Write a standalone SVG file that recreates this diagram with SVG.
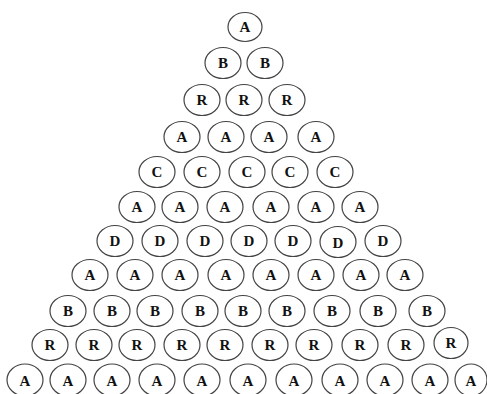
<svg xmlns="http://www.w3.org/2000/svg" width="487" height="394" viewBox="0 0 487 394">
<style>
.n ellipse{fill:#fff;stroke:#444;stroke-width:1.2}
.n text{font-family:"Liberation Serif","Times New Roman",serif;font-size:15px;font-weight:bold;text-anchor:middle;fill:#111}
</style>
<rect width="487" height="394" fill="#fff"/>
<g id="connectors"/>
<g id="r1" class="n">
<g id="n1_1"><ellipse cx="245" cy="27" rx="17" ry="14.5"/><text x="245" y="32">A</text></g>
</g>
<g id="r2" class="n">
<g id="n2_1"><ellipse cx="223" cy="63" rx="18" ry="15.5"/><text x="223" y="68">B</text></g>
<g id="n2_2"><ellipse cx="265" cy="63" rx="18" ry="15.5"/><text x="265" y="68">B</text></g>
</g>
<g id="r3" class="n">
<g id="n3_1"><ellipse cx="202" cy="100" rx="18" ry="15.5"/><text x="202" y="105">R</text></g>
<g id="n3_2"><ellipse cx="244" cy="100" rx="18" ry="15.5"/><text x="244" y="105">R</text></g>
<g id="n3_3"><ellipse cx="287" cy="100" rx="18" ry="15.5"/><text x="287" y="105">R</text></g>
</g>
<g id="r4" class="n">
<g id="n4_1"><ellipse cx="182" cy="137" rx="18" ry="15.5"/><text x="182" y="142">A</text></g>
<g id="n4_2"><ellipse cx="226" cy="137" rx="18" ry="15.5"/><text x="226" y="142">A</text></g>
<g id="n4_3"><ellipse cx="269" cy="137" rx="18" ry="15.5"/><text x="269" y="142">A</text></g>
<g id="n4_4"><ellipse cx="316" cy="137" rx="18" ry="15.5"/><text x="316" y="142">A</text></g>
</g>
<g id="r5" class="n">
<g id="n5_1"><ellipse cx="157" cy="172" rx="18" ry="15.5"/><text x="157" y="177">C</text></g>
<g id="n5_2"><ellipse cx="202" cy="172" rx="18" ry="15.5"/><text x="202" y="177">C</text></g>
<g id="n5_3"><ellipse cx="247" cy="172" rx="18" ry="15.5"/><text x="247" y="177">C</text></g>
<g id="n5_4"><ellipse cx="290" cy="172" rx="18" ry="15.5"/><text x="290" y="177">C</text></g>
<g id="n5_5"><ellipse cx="335" cy="172" rx="18" ry="15.5"/><text x="335" y="177">C</text></g>
</g>
<g id="r6" class="n">
<g id="n6_1"><ellipse cx="137" cy="207" rx="18" ry="15.5"/><text x="137" y="212">A</text></g>
<g id="n6_2"><ellipse cx="180" cy="207" rx="18" ry="15.5"/><text x="180" y="212">A</text></g>
<g id="n6_3"><ellipse cx="225" cy="207" rx="18" ry="15.5"/><text x="225" y="212">A</text></g>
<g id="n6_4"><ellipse cx="271" cy="207" rx="18" ry="15.5"/><text x="271" y="212">A</text></g>
<g id="n6_5"><ellipse cx="316" cy="207" rx="18" ry="15.5"/><text x="316" y="212">A</text></g>
<g id="n6_6"><ellipse cx="360" cy="207" rx="18" ry="15.5"/><text x="360" y="212">A</text></g>
</g>
<g id="r7" class="n">
<g id="n7_1"><ellipse cx="115" cy="241" rx="18" ry="15.5"/><text x="115" y="246">D</text></g>
<g id="n7_2"><ellipse cx="160" cy="241" rx="18" ry="15.5"/><text x="160" y="246">D</text></g>
<g id="n7_3"><ellipse cx="205" cy="241" rx="18" ry="15.5"/><text x="205" y="246">D</text></g>
<g id="n7_4"><ellipse cx="249" cy="241" rx="18" ry="15.5"/><text x="249" y="246">D</text></g>
<g id="n7_5"><ellipse cx="293" cy="241" rx="18" ry="15.5"/><text x="293" y="246">D</text></g>
<g id="n7_6"><ellipse cx="338" cy="242" rx="18" ry="15.5"/><text x="338" y="248">D</text></g>
<g id="n7_7"><ellipse cx="383" cy="241" rx="18" ry="15.5"/><text x="383" y="246">D</text></g>
</g>
<g id="r8" class="n">
<g id="n8_1"><ellipse cx="90" cy="275" rx="18" ry="15.5"/><text x="90" y="280">A</text></g>
<g id="n8_2"><ellipse cx="135" cy="275" rx="18" ry="15.5"/><text x="135" y="280">A</text></g>
<g id="n8_3"><ellipse cx="180" cy="275" rx="18" ry="15.5"/><text x="180" y="280">A</text></g>
<g id="n8_4"><ellipse cx="226" cy="275" rx="18" ry="15.5"/><text x="226" y="280">A</text></g>
<g id="n8_5"><ellipse cx="271" cy="275" rx="18" ry="15.5"/><text x="271" y="280">A</text></g>
<g id="n8_6"><ellipse cx="316" cy="275" rx="18" ry="15.5"/><text x="316" y="280">A</text></g>
<g id="n8_7"><ellipse cx="361" cy="275" rx="18" ry="15.5"/><text x="361" y="280">A</text></g>
<g id="n8_8"><ellipse cx="405" cy="275" rx="18" ry="15.5"/><text x="405" y="280">A</text></g>
</g>
<g id="r9" class="n">
<g id="n9_1"><ellipse cx="68" cy="311" rx="18" ry="15.5"/><text x="68" y="316">B</text></g>
<g id="n9_2"><ellipse cx="112" cy="311" rx="18" ry="15.5"/><text x="112" y="316">B</text></g>
<g id="n9_3"><ellipse cx="155" cy="311" rx="18" ry="15.5"/><text x="155" y="316">B</text></g>
<g id="n9_4"><ellipse cx="200" cy="311" rx="18" ry="15.5"/><text x="200" y="316">B</text></g>
<g id="n9_5"><ellipse cx="243" cy="311" rx="18" ry="15.5"/><text x="243" y="316">B</text></g>
<g id="n9_6"><ellipse cx="287" cy="311" rx="18" ry="15.5"/><text x="287" y="316">B</text></g>
<g id="n9_7"><ellipse cx="332" cy="311" rx="18" ry="15.5"/><text x="332" y="316">B</text></g>
<g id="n9_8"><ellipse cx="378" cy="311" rx="18" ry="15.5"/><text x="378" y="316">B</text></g>
<g id="n9_9"><ellipse cx="427" cy="311" rx="18" ry="15.5"/><text x="427" y="316">B</text></g>
</g>
<g id="r10" class="n">
<g id="n10_1"><ellipse cx="50" cy="345" rx="18" ry="15.5"/><text x="50" y="350">R</text></g>
<g id="n10_2"><ellipse cx="94" cy="345" rx="18" ry="15.5"/><text x="94" y="350">R</text></g>
<g id="n10_3"><ellipse cx="137" cy="345" rx="18" ry="15.5"/><text x="137" y="350">R</text></g>
<g id="n10_4"><ellipse cx="182" cy="345" rx="18" ry="15.5"/><text x="182" y="350">R</text></g>
<g id="n10_5"><ellipse cx="225" cy="345" rx="18" ry="15.5"/><text x="225" y="350">R</text></g>
<g id="n10_6"><ellipse cx="270" cy="345" rx="18" ry="15.5"/><text x="270" y="350">R</text></g>
<g id="n10_7"><ellipse cx="314" cy="345" rx="18" ry="15.5"/><text x="314" y="350">R</text></g>
<g id="n10_8"><ellipse cx="360" cy="345" rx="18" ry="15.5"/><text x="360" y="350">R</text></g>
<g id="n10_9"><ellipse cx="406" cy="345" rx="18" ry="15.5"/><text x="406" y="350">R</text></g>
<g id="n10_10"><ellipse cx="451" cy="343" rx="17" ry="15.5"/><text x="451" y="348">R</text></g>
</g>
<g id="r11" class="n">
<g id="n11_1"><ellipse cx="25" cy="380" rx="18" ry="16"/><text x="25" y="386">A</text></g>
<g id="n11_2"><ellipse cx="68" cy="380" rx="18" ry="16"/><text x="68" y="386">A</text></g>
<g id="n11_3"><ellipse cx="112" cy="380" rx="18" ry="16"/><text x="112" y="386">A</text></g>
<g id="n11_4"><ellipse cx="157" cy="380" rx="18" ry="16"/><text x="157" y="386">A</text></g>
<g id="n11_5"><ellipse cx="202" cy="380" rx="18" ry="16"/><text x="202" y="386">A</text></g>
<g id="n11_6"><ellipse cx="248" cy="380" rx="18" ry="16"/><text x="248" y="386">A</text></g>
<g id="n11_7"><ellipse cx="294" cy="380" rx="18" ry="16"/><text x="294" y="386">A</text></g>
<g id="n11_8"><ellipse cx="340" cy="380" rx="18" ry="16"/><text x="340" y="386">A</text></g>
<g id="n11_9"><ellipse cx="385" cy="380" rx="18" ry="16"/><text x="385" y="386">A</text></g>
<g id="n11_10"><ellipse cx="430" cy="380" rx="18" ry="16"/><text x="430" y="386">A</text></g>
<g id="n11_11"><ellipse cx="471" cy="380" rx="16" ry="16"/><text x="471" y="386">A</text></g>
</g>
</svg>
